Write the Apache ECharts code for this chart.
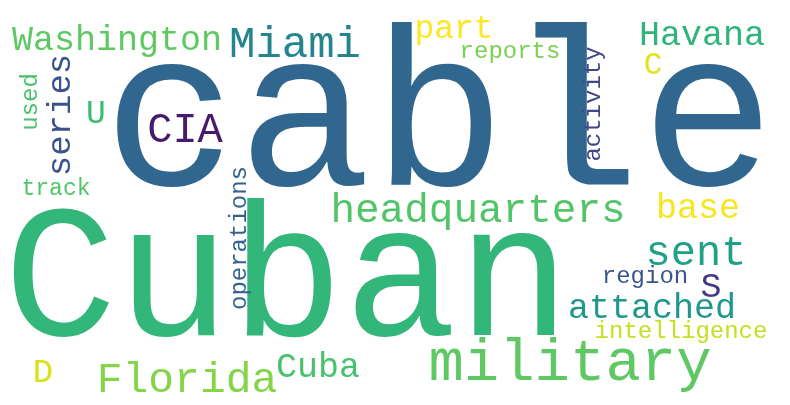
<!DOCTYPE html>
<html>
<head>
<meta charset="utf-8">
<script src="https://cdn.jsdelivr.net/npm/echarts@6/dist/echarts.min.js"></script>
<style>
  html, body { margin: 0; padding: 0; background: #ffffff; }
  #chart { width: 790px; height: 405px; }
</style>
</head>
<body>
<div id="chart"></div>
<script>
// words of the cloud, their weight (rendered font size) and where the cloud put them
var words = ['cable', 'Cuban', 'military', 'Miami', 'headquarters', 'sent', 'Florida',
    'CIA', 'Washington', 'attached', 'Havana', 'series', 'base', 'Cuba', 'part', 'U',
    'S', 'D', 'C', 'activity', 'operations', 'region', 'intelligence', 'reports', 'used', 'track'];
var weights = [224, 189, 59, 44, 41, 42, 43,
    42, 35, 35, 35, 34, 35, 35, 33, 33,
    35, 34, 31, 24, 24, 24, 24, 24, 24, 23];
var posX = [439, 287, 570, 295, 478, 696, 187,
    185, 117, 652, 702, 70, 698, 318, 454, 96,
    711, 43, 653, 600, 246, 645, 681, 510, 37, 56];
var posY = [186, 336, 380, 57, 222, 265, 392,
    142, 50, 318, 45, 115, 218, 377, 38, 123,
    297, 382, 74, 104, 238, 283, 338, 58, 102, 195];
var rotations = [0, 0, 0, 0, 0, 0, 0,
    0, 0, 0, 0, 90, 0, 0, 0, 0,
    0, 0, 0, 90, 90, 0, 0, 0, 90, 0];
var colors = ['#31668e', '#32b67a', '#5ec962', '#25858e', '#52c569', '#1fa187', '#86d549',
    '#481a6c', '#5ec962', '#1f988b', '#2fb47c', '#3b528b', '#f6e620', '#4ac16d', '#fde725', '#3aba76',
    '#443983', '#d8e219', '#dfe318', '#404688', '#33638d', '#39568c', '#c5e021', '#7ad151', '#4ac16d', '#52c569'];

var MID = 0.27; // canvas 'middle' sits this far above the baseline (in em)

var points = words.map(function (w, i) {
    var f = weights[i];
    var x = posX[i], y = posY[i];
    if (rotations[i] === 90) {
        x = x - MID * f;
    } else {
        y = y - MID * f;
    }
    return {
        name: w,
        value: [x, y],
        label: {
            fontSize: f,
            color: colors[i],
            rotate: rotations[i]
        }
    };
});

var chart = echarts.init(document.getElementById('chart'));
chart.setOption({
    backgroundColor: '#ffffff',
    animation: false,
    grid: { left: 0, right: 0, top: 0, bottom: 0 },
    xAxis: { type: 'value', min: 0, max: 790, show: false },
    yAxis: { type: 'value', min: 0, max: 405, inverse: true, show: false },
    series: [{
        type: 'scatter',
        symbolSize: 0,
        silent: true,
        itemStyle: { opacity: 1 },
        label: {
            show: true,
            position: 'inside',
            formatter: '{b}',
            fontFamily: 'Liberation Mono',
            align: 'center',
            verticalAlign: 'middle',
            opacity: 1,
            textBorderWidth: 0
        },
        data: points
    }]
});
</script>
</body>
</html>
